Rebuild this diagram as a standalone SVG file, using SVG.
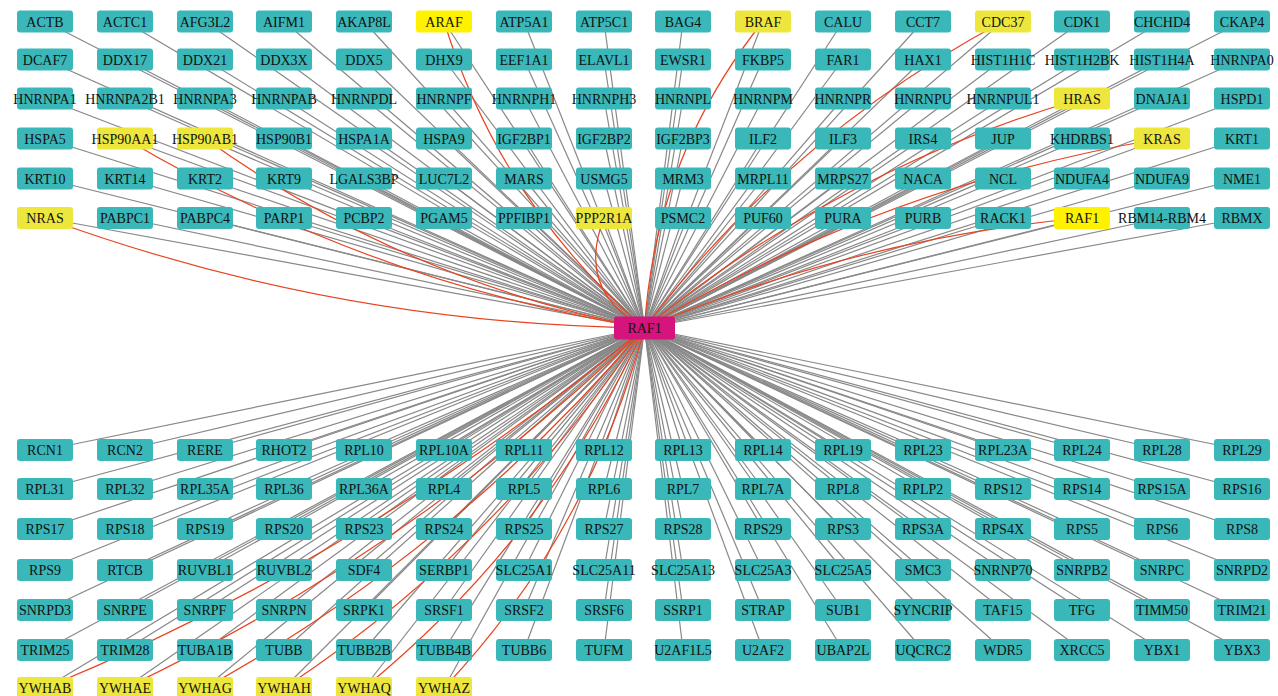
<svg xmlns="http://www.w3.org/2000/svg" width="1278" height="696" viewBox="0 0 1278 696">
<style>
.e path{fill:none;stroke:#888888;stroke-width:1.2}
.r path{fill:none;stroke:#e8431f;stroke-width:1.2}
.n rect{fill:#3ab7b9}
.n.y rect{fill:#ede63d}
.n.b rect{fill:#fff200}
.n.h rect{fill:#d6147e}
text{font-family:"Liberation Serif","Times New Roman",serif;font-size:14px;fill:#111111;text-anchor:middle}
</style>
<rect width="1278" height="696" fill="#ffffff"/>
<g id="connectors">
<g class="e">
<path d="M45 21.5L644.5 328"/><path d="M125 21.5L644.5 328"/><path d="M205 21.5L644.5 328"/><path d="M284 21.5L644.5 328"/><path d="M364 21.5L644.5 328"/><path d="M444 21.5L644.5 328"/><path d="M524 21.5L644.5 328"/><path d="M604 21.5L644.5 328"/><path d="M683 21.5L644.5 328"/><path d="M763 21.5L644.5 328"/><path d="M843 21.5L644.5 328"/><path d="M923 21.5L644.5 328"/><path d="M1003 21.5L644.5 328"/><path d="M1082 21.5L644.5 328"/><path d="M1162 21.5L644.5 328"/><path d="M1242 21.5L644.5 328"/>
<path d="M45 59.5L644.5 328"/><path d="M125 59.5L644.5 328"/><path d="M205 59.5L644.5 328"/><path d="M284 59.5L644.5 328"/><path d="M364 59.5L644.5 328"/><path d="M444 59.5L644.5 328"/><path d="M524 59.5L644.5 328"/><path d="M604 59.5L644.5 328"/><path d="M683 59.5L644.5 328"/><path d="M763 59.5L644.5 328"/><path d="M843 59.5L644.5 328"/><path d="M923 59.5L644.5 328"/><path d="M1003 59.5L644.5 328"/><path d="M1082 59.5L644.5 328"/><path d="M1162 59.5L644.5 328"/><path d="M1242 59.5L644.5 328"/>
<path d="M45 98.5L644.5 328"/><path d="M125 98.5L644.5 328"/><path d="M205 98.5L644.5 328"/><path d="M284 98.5L644.5 328"/><path d="M364 98.5L644.5 328"/><path d="M444 98.5L644.5 328"/><path d="M524 98.5L644.5 328"/><path d="M604 98.5L644.5 328"/><path d="M683 98.5L644.5 328"/><path d="M763 98.5L644.5 328"/><path d="M843 98.5L644.5 328"/><path d="M923 98.5L644.5 328"/><path d="M1003 98.5L644.5 328"/><path d="M1082 98.5L644.5 328"/><path d="M1162 98.5L644.5 328"/><path d="M1242 98.5L644.5 328"/>
<path d="M45 138.5L644.5 328"/><path d="M125 138.5L644.5 328"/><path d="M205 138.5L644.5 328"/><path d="M284 138.5L644.5 328"/><path d="M364 138.5L644.5 328"/><path d="M444 138.5L644.5 328"/><path d="M524 138.5L644.5 328"/><path d="M604 138.5L644.5 328"/><path d="M683 138.5L644.5 328"/><path d="M763 138.5L644.5 328"/><path d="M843 138.5L644.5 328"/><path d="M923 138.5L644.5 328"/><path d="M1003 138.5L644.5 328"/><path d="M1082 138.5L644.5 328"/><path d="M1162 138.5L644.5 328"/><path d="M1242 138.5L644.5 328"/>
<path d="M45 178.5L644.5 328"/><path d="M125 178.5L644.5 328"/><path d="M205 178.5L644.5 328"/><path d="M284 178.5L644.5 328"/><path d="M364 178.5L644.5 328"/><path d="M444 178.5L644.5 328"/><path d="M524 178.5L644.5 328"/><path d="M604 178.5L644.5 328"/><path d="M683 178.5L644.5 328"/><path d="M763 178.5L644.5 328"/><path d="M843 178.5L644.5 328"/><path d="M923 178.5L644.5 328"/><path d="M1003 178.5L644.5 328"/><path d="M1082 178.5L644.5 328"/><path d="M1162 178.5L644.5 328"/><path d="M1242 178.5L644.5 328"/>
<path d="M45 218L644.5 328"/><path d="M125 218L644.5 328"/><path d="M205 218L644.5 328"/><path d="M284 218L644.5 328"/><path d="M364 218L644.5 328"/><path d="M444 218L644.5 328"/><path d="M524 218L644.5 328"/><path d="M604 218L644.5 328"/><path d="M683 218L644.5 328"/><path d="M763 218L644.5 328"/><path d="M843 218L644.5 328"/><path d="M923 218L644.5 328"/><path d="M1003 218L644.5 328"/><path d="M1082 218L644.5 328"/><path d="M1162 218L644.5 328"/><path d="M1242 218L644.5 328"/>
<path d="M45 450L644.5 328"/><path d="M125 450L644.5 328"/><path d="M205 450L644.5 328"/><path d="M284 450L644.5 328"/><path d="M364 450L644.5 328"/><path d="M444 450L644.5 328"/><path d="M524 450L644.5 328"/><path d="M604 450L644.5 328"/><path d="M683 450L644.5 328"/><path d="M763 450L644.5 328"/><path d="M843 450L644.5 328"/><path d="M923 450L644.5 328"/><path d="M1003 450L644.5 328"/><path d="M1082 450L644.5 328"/><path d="M1162 450L644.5 328"/><path d="M1242 450L644.5 328"/>
<path d="M45 489L644.5 328"/><path d="M125 489L644.5 328"/><path d="M205 489L644.5 328"/><path d="M284 489L644.5 328"/><path d="M364 489L644.5 328"/><path d="M444 489L644.5 328"/><path d="M524 489L644.5 328"/><path d="M604 489L644.5 328"/><path d="M683 489L644.5 328"/><path d="M763 489L644.5 328"/><path d="M843 489L644.5 328"/><path d="M923 489L644.5 328"/><path d="M1003 489L644.5 328"/><path d="M1082 489L644.5 328"/><path d="M1162 489L644.5 328"/><path d="M1242 489L644.5 328"/>
<path d="M45 529L644.5 328"/><path d="M125 529L644.5 328"/><path d="M205 529L644.5 328"/><path d="M284 529L644.5 328"/><path d="M364 529L644.5 328"/><path d="M444 529L644.5 328"/><path d="M524 529L644.5 328"/><path d="M604 529L644.5 328"/><path d="M683 529L644.5 328"/><path d="M763 529L644.5 328"/><path d="M843 529L644.5 328"/><path d="M923 529L644.5 328"/><path d="M1003 529L644.5 328"/><path d="M1082 529L644.5 328"/><path d="M1162 529L644.5 328"/><path d="M1242 529L644.5 328"/>
<path d="M45 570L644.5 328"/><path d="M125 570L644.5 328"/><path d="M205 570L644.5 328"/><path d="M284 570L644.5 328"/><path d="M364 570L644.5 328"/><path d="M444 570L644.5 328"/><path d="M524 570L644.5 328"/><path d="M604 570L644.5 328"/><path d="M683 570L644.5 328"/><path d="M763 570L644.5 328"/><path d="M843 570L644.5 328"/><path d="M923 570L644.5 328"/><path d="M1003 570L644.5 328"/><path d="M1082 570L644.5 328"/><path d="M1162 570L644.5 328"/><path d="M1242 570L644.5 328"/>
<path d="M45 610L644.5 328"/><path d="M125 610L644.5 328"/><path d="M205 610L644.5 328"/><path d="M284 610L644.5 328"/><path d="M364 610L644.5 328"/><path d="M444 610L644.5 328"/><path d="M524 610L644.5 328"/><path d="M604 610L644.5 328"/><path d="M683 610L644.5 328"/><path d="M763 610L644.5 328"/><path d="M843 610L644.5 328"/><path d="M923 610L644.5 328"/><path d="M1003 610L644.5 328"/><path d="M1082 610L644.5 328"/><path d="M1162 610L644.5 328"/><path d="M1242 610L644.5 328"/>
<path d="M45 650L644.5 328"/><path d="M125 650L644.5 328"/><path d="M205 650L644.5 328"/><path d="M284 650L644.5 328"/><path d="M364 650L644.5 328"/><path d="M444 650L644.5 328"/><path d="M524 650L644.5 328"/><path d="M604 650L644.5 328"/><path d="M683 650L644.5 328"/><path d="M763 650L644.5 328"/><path d="M843 650L644.5 328"/><path d="M923 650L644.5 328"/><path d="M1003 650L644.5 328"/><path d="M1082 650L644.5 328"/><path d="M1162 650L644.5 328"/><path d="M1242 650L644.5 328"/>
<path d="M45 688L644.5 328"/><path d="M125 688L644.5 328"/><path d="M205 688L644.5 328"/><path d="M284 688L644.5 328"/><path d="M364 688L644.5 328"/><path d="M444 688L644.5 328"/>
</g>
<g class="r">
<path d="M444 21.5Q500.7 203.2 644.5 328"/>
<path d="M763 21.5Q655.3 156 644.5 328"/>
<path d="M1003 21.5Q790 135.3 644.5 328"/>
<path d="M1082 98.5Q840 169 644.5 328"/>
<path d="M125 138.5Q366.9 282.1 644.5 328"/>
<path d="M205 138.5Q404.2 281 644.5 328"/>
<path d="M1162 138.5Q885.4 184.4 644.5 328"/>
<path d="M45 218Q335.4 324.1 644.5 328"/>
<path d="M604 218Q575.5 291 644.5 328"/>
<path d="M1082 218Q854.7 239.1 644.5 328"/>
<path d="M45 688Q371.5 552.6 644.5 328"/>
<path d="M125 688Q414.4 550.7 644.5 328"/>
<path d="M205 688Q457.7 548.2 644.5 328"/>
<path d="M284 688Q501 544.8 644.5 328"/>
<path d="M364 688Q545.3 540 644.5 328"/>
<path d="M444 688Q589.7 533.3 644.5 328"/>
</g>
</g>
<g id="nodes">
<g id="n-ACTB" class="n" transform="translate(45,21.5)"><rect x="-28" y="-11" width="56" height="22" rx="3"/><text y="5">ACTB</text></g>
<g id="n-ACTC1" class="n" transform="translate(125,21.5)"><rect x="-28" y="-11" width="56" height="22" rx="3"/><text y="5">ACTC1</text></g>
<g id="n-AFG3L2" class="n" transform="translate(205,21.5)"><rect x="-28" y="-11" width="56" height="22" rx="3"/><text y="5">AFG3L2</text></g>
<g id="n-AIFM1" class="n" transform="translate(284,21.5)"><rect x="-28" y="-11" width="56" height="22" rx="3"/><text y="5">AIFM1</text></g>
<g id="n-AKAP8L" class="n" transform="translate(364,21.5)"><rect x="-28" y="-11" width="56" height="22" rx="3"/><text y="5">AKAP8L</text></g>
<g id="n-ARAF" class="n b" transform="translate(444,21.5)"><rect x="-28" y="-11" width="56" height="22" rx="3"/><text y="5">ARAF</text></g>
<g id="n-ATP5A1" class="n" transform="translate(524,21.5)"><rect x="-28" y="-11" width="56" height="22" rx="3"/><text y="5">ATP5A1</text></g>
<g id="n-ATP5C1" class="n" transform="translate(604,21.5)"><rect x="-28" y="-11" width="56" height="22" rx="3"/><text y="5">ATP5C1</text></g>
<g id="n-BAG4" class="n" transform="translate(683,21.5)"><rect x="-28" y="-11" width="56" height="22" rx="3"/><text y="5">BAG4</text></g>
<g id="n-BRAF" class="n y" transform="translate(763,21.5)"><rect x="-28" y="-11" width="56" height="22" rx="3"/><text y="5">BRAF</text></g>
<g id="n-CALU" class="n" transform="translate(843,21.5)"><rect x="-28" y="-11" width="56" height="22" rx="3"/><text y="5">CALU</text></g>
<g id="n-CCT7" class="n" transform="translate(923,21.5)"><rect x="-28" y="-11" width="56" height="22" rx="3"/><text y="5">CCT7</text></g>
<g id="n-CDC37" class="n y" transform="translate(1003,21.5)"><rect x="-28" y="-11" width="56" height="22" rx="3"/><text y="5">CDC37</text></g>
<g id="n-CDK1" class="n" transform="translate(1082,21.5)"><rect x="-28" y="-11" width="56" height="22" rx="3"/><text y="5">CDK1</text></g>
<g id="n-CHCHD4" class="n" transform="translate(1162,21.5)"><rect x="-28" y="-11" width="56" height="22" rx="3"/><text y="5">CHCHD4</text></g>
<g id="n-CKAP4" class="n" transform="translate(1242,21.5)"><rect x="-28" y="-11" width="56" height="22" rx="3"/><text y="5">CKAP4</text></g>
<g id="n-DCAF7" class="n" transform="translate(45,59.5)"><rect x="-28" y="-11" width="56" height="22" rx="3"/><text y="5">DCAF7</text></g>
<g id="n-DDX17" class="n" transform="translate(125,59.5)"><rect x="-28" y="-11" width="56" height="22" rx="3"/><text y="5">DDX17</text></g>
<g id="n-DDX21" class="n" transform="translate(205,59.5)"><rect x="-28" y="-11" width="56" height="22" rx="3"/><text y="5">DDX21</text></g>
<g id="n-DDX3X" class="n" transform="translate(284,59.5)"><rect x="-28" y="-11" width="56" height="22" rx="3"/><text y="5">DDX3X</text></g>
<g id="n-DDX5" class="n" transform="translate(364,59.5)"><rect x="-28" y="-11" width="56" height="22" rx="3"/><text y="5">DDX5</text></g>
<g id="n-DHX9" class="n" transform="translate(444,59.5)"><rect x="-28" y="-11" width="56" height="22" rx="3"/><text y="5">DHX9</text></g>
<g id="n-EEF1A1" class="n" transform="translate(524,59.5)"><rect x="-28" y="-11" width="56" height="22" rx="3"/><text y="5">EEF1A1</text></g>
<g id="n-ELAVL1" class="n" transform="translate(604,59.5)"><rect x="-28" y="-11" width="56" height="22" rx="3"/><text y="5">ELAVL1</text></g>
<g id="n-EWSR1" class="n" transform="translate(683,59.5)"><rect x="-28" y="-11" width="56" height="22" rx="3"/><text y="5">EWSR1</text></g>
<g id="n-FKBP5" class="n" transform="translate(763,59.5)"><rect x="-28" y="-11" width="56" height="22" rx="3"/><text y="5">FKBP5</text></g>
<g id="n-FAR1" class="n" transform="translate(843,59.5)"><rect x="-28" y="-11" width="56" height="22" rx="3"/><text y="5">FAR1</text></g>
<g id="n-HAX1" class="n" transform="translate(923,59.5)"><rect x="-28" y="-11" width="56" height="22" rx="3"/><text y="5">HAX1</text></g>
<g id="n-HIST1H1C" class="n" transform="translate(1003,59.5)"><rect x="-28" y="-11" width="56" height="22" rx="3"/><text y="5">HIST1H1C</text></g>
<g id="n-HIST1H2BK" class="n" transform="translate(1082,59.5)"><rect x="-28" y="-11" width="56" height="22" rx="3"/><text y="5">HIST1H2BK</text></g>
<g id="n-HIST1H4A" class="n" transform="translate(1162,59.5)"><rect x="-28" y="-11" width="56" height="22" rx="3"/><text y="5">HIST1H4A</text></g>
<g id="n-HNRNPA0" class="n" transform="translate(1242,59.5)"><rect x="-28" y="-11" width="56" height="22" rx="3"/><text y="5">HNRNPA0</text></g>
<g id="n-HNRNPA1" class="n" transform="translate(45,98.5)"><rect x="-28" y="-11" width="56" height="22" rx="3"/><text y="5">HNRNPA1</text></g>
<g id="n-HNRNPA2B1" class="n" transform="translate(125,98.5)"><rect x="-28" y="-11" width="56" height="22" rx="3"/><text y="5">HNRNPA2B1</text></g>
<g id="n-HNRNPA3" class="n" transform="translate(205,98.5)"><rect x="-28" y="-11" width="56" height="22" rx="3"/><text y="5">HNRNPA3</text></g>
<g id="n-HNRNPAB" class="n" transform="translate(284,98.5)"><rect x="-28" y="-11" width="56" height="22" rx="3"/><text y="5">HNRNPAB</text></g>
<g id="n-HNRNPDL" class="n" transform="translate(364,98.5)"><rect x="-28" y="-11" width="56" height="22" rx="3"/><text y="5">HNRNPDL</text></g>
<g id="n-HNRNPF" class="n" transform="translate(444,98.5)"><rect x="-28" y="-11" width="56" height="22" rx="3"/><text y="5">HNRNPF</text></g>
<g id="n-HNRNPH1" class="n" transform="translate(524,98.5)"><rect x="-28" y="-11" width="56" height="22" rx="3"/><text y="5">HNRNPH1</text></g>
<g id="n-HNRNPH3" class="n" transform="translate(604,98.5)"><rect x="-28" y="-11" width="56" height="22" rx="3"/><text y="5">HNRNPH3</text></g>
<g id="n-HNRNPL" class="n" transform="translate(683,98.5)"><rect x="-28" y="-11" width="56" height="22" rx="3"/><text y="5">HNRNPL</text></g>
<g id="n-HNRNPM" class="n" transform="translate(763,98.5)"><rect x="-28" y="-11" width="56" height="22" rx="3"/><text y="5">HNRNPM</text></g>
<g id="n-HNRNPR" class="n" transform="translate(843,98.5)"><rect x="-28" y="-11" width="56" height="22" rx="3"/><text y="5">HNRNPR</text></g>
<g id="n-HNRNPU" class="n" transform="translate(923,98.5)"><rect x="-28" y="-11" width="56" height="22" rx="3"/><text y="5">HNRNPU</text></g>
<g id="n-HNRNPUL1" class="n" transform="translate(1003,98.5)"><rect x="-28" y="-11" width="56" height="22" rx="3"/><text y="5">HNRNPUL1</text></g>
<g id="n-HRAS" class="n y" transform="translate(1082,98.5)"><rect x="-28" y="-11" width="56" height="22" rx="3"/><text y="5">HRAS</text></g>
<g id="n-DNAJA1" class="n" transform="translate(1162,98.5)"><rect x="-28" y="-11" width="56" height="22" rx="3"/><text y="5">DNAJA1</text></g>
<g id="n-HSPD1" class="n" transform="translate(1242,98.5)"><rect x="-28" y="-11" width="56" height="22" rx="3"/><text y="5">HSPD1</text></g>
<g id="n-HSPA5" class="n" transform="translate(45,138.5)"><rect x="-28" y="-11" width="56" height="22" rx="3"/><text y="5">HSPA5</text></g>
<g id="n-HSP90AA1" class="n y" transform="translate(125,138.5)"><rect x="-28" y="-11" width="56" height="22" rx="3"/><text y="5">HSP90AA1</text></g>
<g id="n-HSP90AB1" class="n y" transform="translate(205,138.5)"><rect x="-28" y="-11" width="56" height="22" rx="3"/><text y="5">HSP90AB1</text></g>
<g id="n-HSP90B1" class="n" transform="translate(284,138.5)"><rect x="-28" y="-11" width="56" height="22" rx="3"/><text y="5">HSP90B1</text></g>
<g id="n-HSPA1A" class="n" transform="translate(364,138.5)"><rect x="-28" y="-11" width="56" height="22" rx="3"/><text y="5">HSPA1A</text></g>
<g id="n-HSPA9" class="n" transform="translate(444,138.5)"><rect x="-28" y="-11" width="56" height="22" rx="3"/><text y="5">HSPA9</text></g>
<g id="n-IGF2BP1" class="n" transform="translate(524,138.5)"><rect x="-28" y="-11" width="56" height="22" rx="3"/><text y="5">IGF2BP1</text></g>
<g id="n-IGF2BP2" class="n" transform="translate(604,138.5)"><rect x="-28" y="-11" width="56" height="22" rx="3"/><text y="5">IGF2BP2</text></g>
<g id="n-IGF2BP3" class="n" transform="translate(683,138.5)"><rect x="-28" y="-11" width="56" height="22" rx="3"/><text y="5">IGF2BP3</text></g>
<g id="n-ILF2" class="n" transform="translate(763,138.5)"><rect x="-28" y="-11" width="56" height="22" rx="3"/><text y="5">ILF2</text></g>
<g id="n-ILF3" class="n" transform="translate(843,138.5)"><rect x="-28" y="-11" width="56" height="22" rx="3"/><text y="5">ILF3</text></g>
<g id="n-IRS4" class="n" transform="translate(923,138.5)"><rect x="-28" y="-11" width="56" height="22" rx="3"/><text y="5">IRS4</text></g>
<g id="n-JUP" class="n" transform="translate(1003,138.5)"><rect x="-28" y="-11" width="56" height="22" rx="3"/><text y="5">JUP</text></g>
<g id="n-KHDRBS1" class="n" transform="translate(1082,138.5)"><rect x="-28" y="-11" width="56" height="22" rx="3"/><text y="5">KHDRBS1</text></g>
<g id="n-KRAS" class="n y" transform="translate(1162,138.5)"><rect x="-28" y="-11" width="56" height="22" rx="3"/><text y="5">KRAS</text></g>
<g id="n-KRT1" class="n" transform="translate(1242,138.5)"><rect x="-28" y="-11" width="56" height="22" rx="3"/><text y="5">KRT1</text></g>
<g id="n-KRT10" class="n" transform="translate(45,178.5)"><rect x="-28" y="-11" width="56" height="22" rx="3"/><text y="5">KRT10</text></g>
<g id="n-KRT14" class="n" transform="translate(125,178.5)"><rect x="-28" y="-11" width="56" height="22" rx="3"/><text y="5">KRT14</text></g>
<g id="n-KRT2" class="n" transform="translate(205,178.5)"><rect x="-28" y="-11" width="56" height="22" rx="3"/><text y="5">KRT2</text></g>
<g id="n-KRT9" class="n" transform="translate(284,178.5)"><rect x="-28" y="-11" width="56" height="22" rx="3"/><text y="5">KRT9</text></g>
<g id="n-LGALS3BP" class="n" transform="translate(364,178.5)"><rect x="-28" y="-11" width="56" height="22" rx="3"/><text y="5">LGALS3BP</text></g>
<g id="n-LUC7L2" class="n" transform="translate(444,178.5)"><rect x="-28" y="-11" width="56" height="22" rx="3"/><text y="5">LUC7L2</text></g>
<g id="n-MARS" class="n" transform="translate(524,178.5)"><rect x="-28" y="-11" width="56" height="22" rx="3"/><text y="5">MARS</text></g>
<g id="n-USMG5" class="n" transform="translate(604,178.5)"><rect x="-28" y="-11" width="56" height="22" rx="3"/><text y="5">USMG5</text></g>
<g id="n-MRM3" class="n" transform="translate(683,178.5)"><rect x="-28" y="-11" width="56" height="22" rx="3"/><text y="5">MRM3</text></g>
<g id="n-MRPL11" class="n" transform="translate(763,178.5)"><rect x="-28" y="-11" width="56" height="22" rx="3"/><text y="5">MRPL11</text></g>
<g id="n-MRPS27" class="n" transform="translate(843,178.5)"><rect x="-28" y="-11" width="56" height="22" rx="3"/><text y="5">MRPS27</text></g>
<g id="n-NACA" class="n" transform="translate(923,178.5)"><rect x="-28" y="-11" width="56" height="22" rx="3"/><text y="5">NACA</text></g>
<g id="n-NCL" class="n" transform="translate(1003,178.5)"><rect x="-28" y="-11" width="56" height="22" rx="3"/><text y="5">NCL</text></g>
<g id="n-NDUFA4" class="n" transform="translate(1082,178.5)"><rect x="-28" y="-11" width="56" height="22" rx="3"/><text y="5">NDUFA4</text></g>
<g id="n-NDUFA9" class="n" transform="translate(1162,178.5)"><rect x="-28" y="-11" width="56" height="22" rx="3"/><text y="5">NDUFA9</text></g>
<g id="n-NME1" class="n" transform="translate(1242,178.5)"><rect x="-28" y="-11" width="56" height="22" rx="3"/><text y="5">NME1</text></g>
<g id="n-NRAS" class="n y" transform="translate(45,218)"><rect x="-28" y="-11" width="56" height="22" rx="3"/><text y="5">NRAS</text></g>
<g id="n-PABPC1" class="n" transform="translate(125,218)"><rect x="-28" y="-11" width="56" height="22" rx="3"/><text y="5">PABPC1</text></g>
<g id="n-PABPC4" class="n" transform="translate(205,218)"><rect x="-28" y="-11" width="56" height="22" rx="3"/><text y="5">PABPC4</text></g>
<g id="n-PARP1" class="n" transform="translate(284,218)"><rect x="-28" y="-11" width="56" height="22" rx="3"/><text y="5">PARP1</text></g>
<g id="n-PCBP2" class="n" transform="translate(364,218)"><rect x="-28" y="-11" width="56" height="22" rx="3"/><text y="5">PCBP2</text></g>
<g id="n-PGAM5" class="n" transform="translate(444,218)"><rect x="-28" y="-11" width="56" height="22" rx="3"/><text y="5">PGAM5</text></g>
<g id="n-PPFIBP1" class="n" transform="translate(524,218)"><rect x="-28" y="-11" width="56" height="22" rx="3"/><text y="5">PPFIBP1</text></g>
<g id="n-PPP2R1A" class="n y" transform="translate(604,218)"><rect x="-28" y="-11" width="56" height="22" rx="3"/><text y="5">PPP2R1A</text></g>
<g id="n-PSMC2" class="n" transform="translate(683,218)"><rect x="-28" y="-11" width="56" height="22" rx="3"/><text y="5">PSMC2</text></g>
<g id="n-PUF60" class="n" transform="translate(763,218)"><rect x="-28" y="-11" width="56" height="22" rx="3"/><text y="5">PUF60</text></g>
<g id="n-PURA" class="n" transform="translate(843,218)"><rect x="-28" y="-11" width="56" height="22" rx="3"/><text y="5">PURA</text></g>
<g id="n-PURB" class="n" transform="translate(923,218)"><rect x="-28" y="-11" width="56" height="22" rx="3"/><text y="5">PURB</text></g>
<g id="n-RACK1" class="n" transform="translate(1003,218)"><rect x="-28" y="-11" width="56" height="22" rx="3"/><text y="5">RACK1</text></g>
<g id="n-RAF1" class="n b" transform="translate(1082,218)"><rect x="-28" y="-11" width="56" height="22" rx="3"/><text y="5">RAF1</text></g>
<g id="n-RBM14-RBM4" class="n" transform="translate(1162,218)"><rect x="-28" y="-11" width="56" height="22" rx="3"/><text y="5">RBM14-RBM4</text></g>
<g id="n-RBMX" class="n" transform="translate(1242,218)"><rect x="-28" y="-11" width="56" height="22" rx="3"/><text y="5">RBMX</text></g>
<g id="n-RAF1-hub" class="n h" transform="translate(644.5,328)"><rect x="-30.5" y="-11.5" width="61" height="23" rx="3"/><text y="5">RAF1</text></g>
<g id="n-RCN1" class="n" transform="translate(45,450)"><rect x="-28" y="-11" width="56" height="22" rx="3"/><text y="5">RCN1</text></g>
<g id="n-RCN2" class="n" transform="translate(125,450)"><rect x="-28" y="-11" width="56" height="22" rx="3"/><text y="5">RCN2</text></g>
<g id="n-RERE" class="n" transform="translate(205,450)"><rect x="-28" y="-11" width="56" height="22" rx="3"/><text y="5">RERE</text></g>
<g id="n-RHOT2" class="n" transform="translate(284,450)"><rect x="-28" y="-11" width="56" height="22" rx="3"/><text y="5">RHOT2</text></g>
<g id="n-RPL10" class="n" transform="translate(364,450)"><rect x="-28" y="-11" width="56" height="22" rx="3"/><text y="5">RPL10</text></g>
<g id="n-RPL10A" class="n" transform="translate(444,450)"><rect x="-28" y="-11" width="56" height="22" rx="3"/><text y="5">RPL10A</text></g>
<g id="n-RPL11" class="n" transform="translate(524,450)"><rect x="-28" y="-11" width="56" height="22" rx="3"/><text y="5">RPL11</text></g>
<g id="n-RPL12" class="n" transform="translate(604,450)"><rect x="-28" y="-11" width="56" height="22" rx="3"/><text y="5">RPL12</text></g>
<g id="n-RPL13" class="n" transform="translate(683,450)"><rect x="-28" y="-11" width="56" height="22" rx="3"/><text y="5">RPL13</text></g>
<g id="n-RPL14" class="n" transform="translate(763,450)"><rect x="-28" y="-11" width="56" height="22" rx="3"/><text y="5">RPL14</text></g>
<g id="n-RPL19" class="n" transform="translate(843,450)"><rect x="-28" y="-11" width="56" height="22" rx="3"/><text y="5">RPL19</text></g>
<g id="n-RPL23" class="n" transform="translate(923,450)"><rect x="-28" y="-11" width="56" height="22" rx="3"/><text y="5">RPL23</text></g>
<g id="n-RPL23A" class="n" transform="translate(1003,450)"><rect x="-28" y="-11" width="56" height="22" rx="3"/><text y="5">RPL23A</text></g>
<g id="n-RPL24" class="n" transform="translate(1082,450)"><rect x="-28" y="-11" width="56" height="22" rx="3"/><text y="5">RPL24</text></g>
<g id="n-RPL28" class="n" transform="translate(1162,450)"><rect x="-28" y="-11" width="56" height="22" rx="3"/><text y="5">RPL28</text></g>
<g id="n-RPL29" class="n" transform="translate(1242,450)"><rect x="-28" y="-11" width="56" height="22" rx="3"/><text y="5">RPL29</text></g>
<g id="n-RPL31" class="n" transform="translate(45,489)"><rect x="-28" y="-11" width="56" height="22" rx="3"/><text y="5">RPL31</text></g>
<g id="n-RPL32" class="n" transform="translate(125,489)"><rect x="-28" y="-11" width="56" height="22" rx="3"/><text y="5">RPL32</text></g>
<g id="n-RPL35A" class="n" transform="translate(205,489)"><rect x="-28" y="-11" width="56" height="22" rx="3"/><text y="5">RPL35A</text></g>
<g id="n-RPL36" class="n" transform="translate(284,489)"><rect x="-28" y="-11" width="56" height="22" rx="3"/><text y="5">RPL36</text></g>
<g id="n-RPL36A" class="n" transform="translate(364,489)"><rect x="-28" y="-11" width="56" height="22" rx="3"/><text y="5">RPL36A</text></g>
<g id="n-RPL4" class="n" transform="translate(444,489)"><rect x="-28" y="-11" width="56" height="22" rx="3"/><text y="5">RPL4</text></g>
<g id="n-RPL5" class="n" transform="translate(524,489)"><rect x="-28" y="-11" width="56" height="22" rx="3"/><text y="5">RPL5</text></g>
<g id="n-RPL6" class="n" transform="translate(604,489)"><rect x="-28" y="-11" width="56" height="22" rx="3"/><text y="5">RPL6</text></g>
<g id="n-RPL7" class="n" transform="translate(683,489)"><rect x="-28" y="-11" width="56" height="22" rx="3"/><text y="5">RPL7</text></g>
<g id="n-RPL7A" class="n" transform="translate(763,489)"><rect x="-28" y="-11" width="56" height="22" rx="3"/><text y="5">RPL7A</text></g>
<g id="n-RPL8" class="n" transform="translate(843,489)"><rect x="-28" y="-11" width="56" height="22" rx="3"/><text y="5">RPL8</text></g>
<g id="n-RPLP2" class="n" transform="translate(923,489)"><rect x="-28" y="-11" width="56" height="22" rx="3"/><text y="5">RPLP2</text></g>
<g id="n-RPS12" class="n" transform="translate(1003,489)"><rect x="-28" y="-11" width="56" height="22" rx="3"/><text y="5">RPS12</text></g>
<g id="n-RPS14" class="n" transform="translate(1082,489)"><rect x="-28" y="-11" width="56" height="22" rx="3"/><text y="5">RPS14</text></g>
<g id="n-RPS15A" class="n" transform="translate(1162,489)"><rect x="-28" y="-11" width="56" height="22" rx="3"/><text y="5">RPS15A</text></g>
<g id="n-RPS16" class="n" transform="translate(1242,489)"><rect x="-28" y="-11" width="56" height="22" rx="3"/><text y="5">RPS16</text></g>
<g id="n-RPS17" class="n" transform="translate(45,529)"><rect x="-28" y="-11" width="56" height="22" rx="3"/><text y="5">RPS17</text></g>
<g id="n-RPS18" class="n" transform="translate(125,529)"><rect x="-28" y="-11" width="56" height="22" rx="3"/><text y="5">RPS18</text></g>
<g id="n-RPS19" class="n" transform="translate(205,529)"><rect x="-28" y="-11" width="56" height="22" rx="3"/><text y="5">RPS19</text></g>
<g id="n-RPS20" class="n" transform="translate(284,529)"><rect x="-28" y="-11" width="56" height="22" rx="3"/><text y="5">RPS20</text></g>
<g id="n-RPS23" class="n" transform="translate(364,529)"><rect x="-28" y="-11" width="56" height="22" rx="3"/><text y="5">RPS23</text></g>
<g id="n-RPS24" class="n" transform="translate(444,529)"><rect x="-28" y="-11" width="56" height="22" rx="3"/><text y="5">RPS24</text></g>
<g id="n-RPS25" class="n" transform="translate(524,529)"><rect x="-28" y="-11" width="56" height="22" rx="3"/><text y="5">RPS25</text></g>
<g id="n-RPS27" class="n" transform="translate(604,529)"><rect x="-28" y="-11" width="56" height="22" rx="3"/><text y="5">RPS27</text></g>
<g id="n-RPS28" class="n" transform="translate(683,529)"><rect x="-28" y="-11" width="56" height="22" rx="3"/><text y="5">RPS28</text></g>
<g id="n-RPS29" class="n" transform="translate(763,529)"><rect x="-28" y="-11" width="56" height="22" rx="3"/><text y="5">RPS29</text></g>
<g id="n-RPS3" class="n" transform="translate(843,529)"><rect x="-28" y="-11" width="56" height="22" rx="3"/><text y="5">RPS3</text></g>
<g id="n-RPS3A" class="n" transform="translate(923,529)"><rect x="-28" y="-11" width="56" height="22" rx="3"/><text y="5">RPS3A</text></g>
<g id="n-RPS4X" class="n" transform="translate(1003,529)"><rect x="-28" y="-11" width="56" height="22" rx="3"/><text y="5">RPS4X</text></g>
<g id="n-RPS5" class="n" transform="translate(1082,529)"><rect x="-28" y="-11" width="56" height="22" rx="3"/><text y="5">RPS5</text></g>
<g id="n-RPS6" class="n" transform="translate(1162,529)"><rect x="-28" y="-11" width="56" height="22" rx="3"/><text y="5">RPS6</text></g>
<g id="n-RPS8" class="n" transform="translate(1242,529)"><rect x="-28" y="-11" width="56" height="22" rx="3"/><text y="5">RPS8</text></g>
<g id="n-RPS9" class="n" transform="translate(45,570)"><rect x="-28" y="-11" width="56" height="22" rx="3"/><text y="5">RPS9</text></g>
<g id="n-RTCB" class="n" transform="translate(125,570)"><rect x="-28" y="-11" width="56" height="22" rx="3"/><text y="5">RTCB</text></g>
<g id="n-RUVBL1" class="n" transform="translate(205,570)"><rect x="-28" y="-11" width="56" height="22" rx="3"/><text y="5">RUVBL1</text></g>
<g id="n-RUVBL2" class="n" transform="translate(284,570)"><rect x="-28" y="-11" width="56" height="22" rx="3"/><text y="5">RUVBL2</text></g>
<g id="n-SDF4" class="n" transform="translate(364,570)"><rect x="-28" y="-11" width="56" height="22" rx="3"/><text y="5">SDF4</text></g>
<g id="n-SERBP1" class="n" transform="translate(444,570)"><rect x="-28" y="-11" width="56" height="22" rx="3"/><text y="5">SERBP1</text></g>
<g id="n-SLC25A1" class="n" transform="translate(524,570)"><rect x="-28" y="-11" width="56" height="22" rx="3"/><text y="5">SLC25A1</text></g>
<g id="n-SLC25A11" class="n" transform="translate(604,570)"><rect x="-28" y="-11" width="56" height="22" rx="3"/><text y="5">SLC25A11</text></g>
<g id="n-SLC25A13" class="n" transform="translate(683,570)"><rect x="-28" y="-11" width="56" height="22" rx="3"/><text y="5">SLC25A13</text></g>
<g id="n-SLC25A3" class="n" transform="translate(763,570)"><rect x="-28" y="-11" width="56" height="22" rx="3"/><text y="5">SLC25A3</text></g>
<g id="n-SLC25A5" class="n" transform="translate(843,570)"><rect x="-28" y="-11" width="56" height="22" rx="3"/><text y="5">SLC25A5</text></g>
<g id="n-SMC3" class="n" transform="translate(923,570)"><rect x="-28" y="-11" width="56" height="22" rx="3"/><text y="5">SMC3</text></g>
<g id="n-SNRNP70" class="n" transform="translate(1003,570)"><rect x="-28" y="-11" width="56" height="22" rx="3"/><text y="5">SNRNP70</text></g>
<g id="n-SNRPB2" class="n" transform="translate(1082,570)"><rect x="-28" y="-11" width="56" height="22" rx="3"/><text y="5">SNRPB2</text></g>
<g id="n-SNRPC" class="n" transform="translate(1162,570)"><rect x="-28" y="-11" width="56" height="22" rx="3"/><text y="5">SNRPC</text></g>
<g id="n-SNRPD2" class="n" transform="translate(1242,570)"><rect x="-28" y="-11" width="56" height="22" rx="3"/><text y="5">SNRPD2</text></g>
<g id="n-SNRPD3" class="n" transform="translate(45,610)"><rect x="-28" y="-11" width="56" height="22" rx="3"/><text y="5">SNRPD3</text></g>
<g id="n-SNRPE" class="n" transform="translate(125,610)"><rect x="-28" y="-11" width="56" height="22" rx="3"/><text y="5">SNRPE</text></g>
<g id="n-SNRPF" class="n" transform="translate(205,610)"><rect x="-28" y="-11" width="56" height="22" rx="3"/><text y="5">SNRPF</text></g>
<g id="n-SNRPN" class="n" transform="translate(284,610)"><rect x="-28" y="-11" width="56" height="22" rx="3"/><text y="5">SNRPN</text></g>
<g id="n-SRPK1" class="n" transform="translate(364,610)"><rect x="-28" y="-11" width="56" height="22" rx="3"/><text y="5">SRPK1</text></g>
<g id="n-SRSF1" class="n" transform="translate(444,610)"><rect x="-28" y="-11" width="56" height="22" rx="3"/><text y="5">SRSF1</text></g>
<g id="n-SRSF2" class="n" transform="translate(524,610)"><rect x="-28" y="-11" width="56" height="22" rx="3"/><text y="5">SRSF2</text></g>
<g id="n-SRSF6" class="n" transform="translate(604,610)"><rect x="-28" y="-11" width="56" height="22" rx="3"/><text y="5">SRSF6</text></g>
<g id="n-SSRP1" class="n" transform="translate(683,610)"><rect x="-28" y="-11" width="56" height="22" rx="3"/><text y="5">SSRP1</text></g>
<g id="n-STRAP" class="n" transform="translate(763,610)"><rect x="-28" y="-11" width="56" height="22" rx="3"/><text y="5">STRAP</text></g>
<g id="n-SUB1" class="n" transform="translate(843,610)"><rect x="-28" y="-11" width="56" height="22" rx="3"/><text y="5">SUB1</text></g>
<g id="n-SYNCRIP" class="n" transform="translate(923,610)"><rect x="-28" y="-11" width="56" height="22" rx="3"/><text y="5">SYNCRIP</text></g>
<g id="n-TAF15" class="n" transform="translate(1003,610)"><rect x="-28" y="-11" width="56" height="22" rx="3"/><text y="5">TAF15</text></g>
<g id="n-TFG" class="n" transform="translate(1082,610)"><rect x="-28" y="-11" width="56" height="22" rx="3"/><text y="5">TFG</text></g>
<g id="n-TIMM50" class="n" transform="translate(1162,610)"><rect x="-28" y="-11" width="56" height="22" rx="3"/><text y="5">TIMM50</text></g>
<g id="n-TRIM21" class="n" transform="translate(1242,610)"><rect x="-28" y="-11" width="56" height="22" rx="3"/><text y="5">TRIM21</text></g>
<g id="n-TRIM25" class="n" transform="translate(45,650)"><rect x="-28" y="-11" width="56" height="22" rx="3"/><text y="5">TRIM25</text></g>
<g id="n-TRIM28" class="n" transform="translate(125,650)"><rect x="-28" y="-11" width="56" height="22" rx="3"/><text y="5">TRIM28</text></g>
<g id="n-TUBA1B" class="n" transform="translate(205,650)"><rect x="-28" y="-11" width="56" height="22" rx="3"/><text y="5">TUBA1B</text></g>
<g id="n-TUBB" class="n" transform="translate(284,650)"><rect x="-28" y="-11" width="56" height="22" rx="3"/><text y="5">TUBB</text></g>
<g id="n-TUBB2B" class="n" transform="translate(364,650)"><rect x="-28" y="-11" width="56" height="22" rx="3"/><text y="5">TUBB2B</text></g>
<g id="n-TUBB4B" class="n" transform="translate(444,650)"><rect x="-28" y="-11" width="56" height="22" rx="3"/><text y="5">TUBB4B</text></g>
<g id="n-TUBB6" class="n" transform="translate(524,650)"><rect x="-28" y="-11" width="56" height="22" rx="3"/><text y="5">TUBB6</text></g>
<g id="n-TUFM" class="n" transform="translate(604,650)"><rect x="-28" y="-11" width="56" height="22" rx="3"/><text y="5">TUFM</text></g>
<g id="n-U2AF1L5" class="n" transform="translate(683,650)"><rect x="-28" y="-11" width="56" height="22" rx="3"/><text y="5">U2AF1L5</text></g>
<g id="n-U2AF2" class="n" transform="translate(763,650)"><rect x="-28" y="-11" width="56" height="22" rx="3"/><text y="5">U2AF2</text></g>
<g id="n-UBAP2L" class="n" transform="translate(843,650)"><rect x="-28" y="-11" width="56" height="22" rx="3"/><text y="5">UBAP2L</text></g>
<g id="n-UQCRC2" class="n" transform="translate(923,650)"><rect x="-28" y="-11" width="56" height="22" rx="3"/><text y="5">UQCRC2</text></g>
<g id="n-WDR5" class="n" transform="translate(1003,650)"><rect x="-28" y="-11" width="56" height="22" rx="3"/><text y="5">WDR5</text></g>
<g id="n-XRCC5" class="n" transform="translate(1082,650)"><rect x="-28" y="-11" width="56" height="22" rx="3"/><text y="5">XRCC5</text></g>
<g id="n-YBX1" class="n" transform="translate(1162,650)"><rect x="-28" y="-11" width="56" height="22" rx="3"/><text y="5">YBX1</text></g>
<g id="n-YBX3" class="n" transform="translate(1242,650)"><rect x="-28" y="-11" width="56" height="22" rx="3"/><text y="5">YBX3</text></g>
<g id="n-YWHAB" class="n y" transform="translate(45,688)"><rect x="-28" y="-11" width="56" height="22" rx="3"/><text y="5">YWHAB</text></g>
<g id="n-YWHAE" class="n y" transform="translate(125,688)"><rect x="-28" y="-11" width="56" height="22" rx="3"/><text y="5">YWHAE</text></g>
<g id="n-YWHAG" class="n y" transform="translate(205,688)"><rect x="-28" y="-11" width="56" height="22" rx="3"/><text y="5">YWHAG</text></g>
<g id="n-YWHAH" class="n y" transform="translate(284,688)"><rect x="-28" y="-11" width="56" height="22" rx="3"/><text y="5">YWHAH</text></g>
<g id="n-YWHAQ" class="n y" transform="translate(364,688)"><rect x="-28" y="-11" width="56" height="22" rx="3"/><text y="5">YWHAQ</text></g>
<g id="n-YWHAZ" class="n y" transform="translate(444,688)"><rect x="-28" y="-11" width="56" height="22" rx="3"/><text y="5">YWHAZ</text></g>
</g>
</svg>
